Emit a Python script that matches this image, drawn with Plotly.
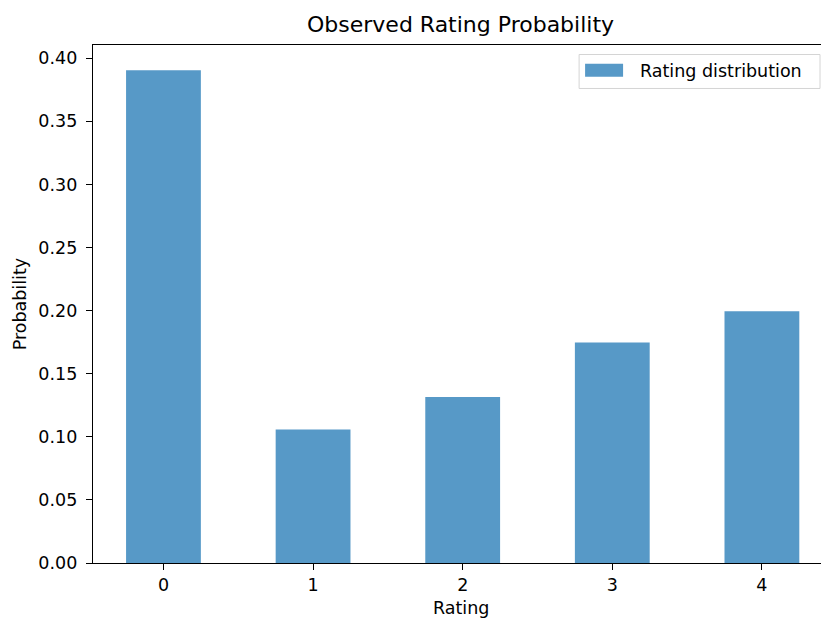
import plotly.graph_objects as go

ratings = [0, 1, 2, 3, 4]
probabilities = [0.3905, 0.1057, 0.1315, 0.1748, 0.1996]
tick_vals_y = [0.00, 0.05, 0.10, 0.15, 0.20, 0.25, 0.30, 0.35, 0.40]
tick_text_y = ["0.00", "0.05", "0.10", "0.15", "0.20", "0.25", "0.30", "0.35", "0.40"]
series_name = "Rating distribution"

W, H = 821, 620
L, R, T, B = 92.7, 821.0, 44.5, 562.7
FONT = "DejaVu Sans"
BAR_COLOR = "rgba(31,119,180,0.75)"

def px_x(p):
    return (p - L) / (R - L)

def px_y(p):
    return (B - p) / (B - T)

fig = go.Figure()
fig.add_trace(go.Bar(
    x=ratings, y=probabilities, name=series_name, width=0.5,
    marker=dict(color=BAR_COLOR, line=dict(width=0)),
    showlegend=False,
))

fig.update_layout(
    width=W, height=H,
    margin=dict(l=L, r=W - R, t=T, b=H - B, pad=0),
    plot_bgcolor="white", paper_bgcolor="white",
    font=dict(family=FONT, size=17.5, color="black"),
    xaxis=dict(
        range=[-0.471, 4.395], tickvals=ratings, ticktext=[str(r) for r in ratings],
        showline=True, linecolor="black", linewidth=1.4, mirror=True,
        ticks="outside", ticklen=6, tickwidth=1.4, tickcolor="black",
        showgrid=False, zeroline=False, tickfont=dict(size=17.5),
    ),
    yaxis=dict(
        range=[0, 0.4105], tickvals=tick_vals_y, ticktext=tick_text_y,
        showline=True, linecolor="black", linewidth=1.4, mirror=False,
        ticks="outside", ticklen=6, tickwidth=1.4, tickcolor="black",
        showgrid=False, zeroline=False, tickfont=dict(size=17.5),
        ticklabelstandoff=5,
    ),
    showlegend=False,
)

annotations = [
    dict(text="Observed Rating Probability", xref="paper", yref="paper",
         x=px_x(460.5), y=px_y(24), xanchor="center", yanchor="middle",
         showarrow=False, font=dict(size=22, family=FONT, color="black")),
    dict(text="Rating", xref="paper", yref="paper",
         x=px_x(460.5), y=px_y(608), xanchor="center", yanchor="middle",
         showarrow=False, font=dict(size=17.5, family=FONT, color="black")),
    dict(text="Probability", xref="paper", yref="paper",
         x=px_x(20), y=px_y(303.6), xanchor="center", yanchor="middle",
         textangle=-90, showarrow=False,
         font=dict(size=17.5, family=FONT, color="black")),
    dict(text=series_name, xref="paper", yref="paper",
         x=px_x(638), y=px_y(70.5), xanchor="left", yanchor="middle",
         showarrow=False, font=dict(size=17.5, family=FONT, color="black")),
]
fig.update_layout(annotations=annotations)

shapes = [
    dict(type="rect", xref="paper", yref="paper",
         x0=px_x(579), x1=px_x(820), y0=px_y(88), y1=px_y(54),
         line=dict(color="#d4d4d4", width=1), fillcolor="rgba(255,255,255,0.8)",
         layer="above"),
    dict(type="rect", xref="paper", yref="paper",
         x0=px_x(585), x1=px_x(623), y0=px_y(76.3), y1=px_y(63.3),
         line=dict(width=0), fillcolor=BAR_COLOR, layer="above"),
]
fig.update_layout(shapes=shapes)

fig.write_html(
    "out.html",
    config={"displayModeBar": False},
    post_script=(
        "document.documentElement.style.margin='0';"
        "document.documentElement.style.overflow='hidden';"
        "document.body.style.margin='0';"
        "document.body.style.padding='0';"
        "document.body.style.overflow='hidden';"
    ),
)
